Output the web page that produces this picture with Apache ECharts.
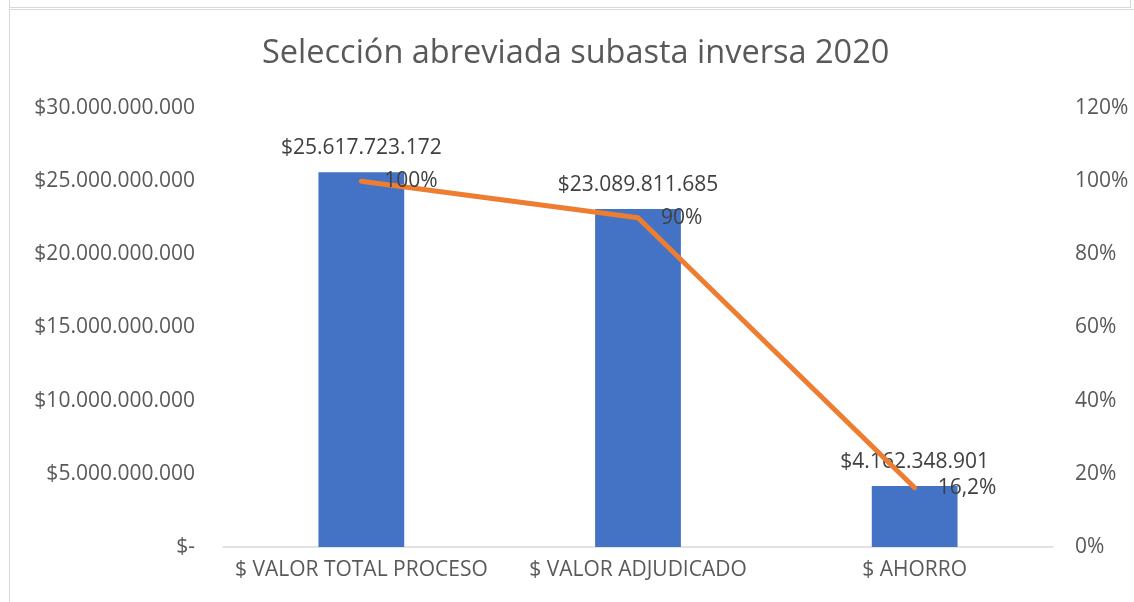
<!DOCTYPE html>
<html><head><meta charset="utf-8">
<script src="https://cdn.jsdelivr.net/npm/echarts@6/dist/echarts.min.js"></script>
<style>
html,body{margin:0;padding:0;background:#fff;width:1134px;height:602px;overflow:hidden;}
#topbox{position:absolute;left:9px;top:-10px;width:1120px;height:16px;border:1.5px solid #d9d9d9;}
#frame{position:absolute;left:9px;top:9px;width:1140px;height:620px;border:1.5px solid #d9d9d9;}
#chart{position:absolute;left:0;top:0;width:1134px;height:602px;}
</style></head>
<body>
<div id="topbox"></div><div id="frame"></div>
<div id="chart"></div>
<script>
const categories = ['$ VALOR TOTAL PROCESO', '$ VALOR ADJUDICADO', '$ AHORRO'];
const amounts = [25617723172, 23089811685, 4162348901];
const percents = [100, 90, 16.2];
const percentLabels = ['100%', '90%', '16,2%'];
const leftTicks = [0, 5e9, 10e9, 15e9, 20e9, 25e9, 30e9];
const rightTicks = [0, 20, 40, 60, 80, 100, 120];

function fmtMoney(v){
  if (v === 0) return '$-';
  return '$' + String(Math.round(v)).replace(/\B(?=(\d{3})+(?!\d))/g, '.');
}
const FONT = '"Open Sans", sans-serif';
const C = '#595959';
const FS = 21;
const chart = echarts.init(document.getElementById('chart'));
chart.setOption({
  animation: false,
  textStyle: {fontFamily: FONT},
  title: {text: 'Selección abreviada subasta inversa 2020', left: 257, top: 32,
    textStyle: {fontFamily: FONT, fontSize: 32.5, fontWeight: 'normal', color: C}},
  grid: {left: 223, right: 81, top: 108, bottom: 55},
  xAxis: {type: 'category', data: categories,
    axisLine: {lineStyle: {color: '#d9d9d9', width: 1.5}}, axisTick: {show: false},
    axisLabel: {color: C, fontSize: FS, margin: 13, interval: 0, fontFamily: FONT}},
  yAxis: [
    {type: 'value', min: 0, max: 30e9, interval: 5e9, splitLine: {show: false},
     axisLabel: {color: C, fontSize: FS, margin: 28, fontFamily: FONT, formatter: fmtMoney}},
    {type: 'value', min: 0, max: 120, interval: 20, splitLine: {show: false},
     axisLabel: {color: C, fontSize: FS, margin: 22, fontFamily: FONT, formatter: v => v + '%'}}
  ],
  series: [
    {type: 'bar', data: amounts, barWidth: '31%', itemStyle: {color: '#4472C4'},
     label: {show: true, position: 'top', distance: 14, color: '#404040', fontSize: FS, fontFamily: FONT,
       formatter: p => fmtMoney(p.value)}},
    {type: 'line', yAxisIndex: 1, data: percents, symbol: 'circle', symbolSize: 2, showSymbol: true,
     itemStyle: {color: '#ED7D31'},
     lineStyle: {color: '#ED7D31', width: 5, cap: 'round', join: 'round'},
     label: {show: true, position: 'right', distance: 22, color: '#404040', fontSize: FS, fontFamily: FONT,
       formatter: p => percentLabels[p.dataIndex]},
     labelLayout: {hideOverlap: false}}
  ]
});
</script>
</body></html>
